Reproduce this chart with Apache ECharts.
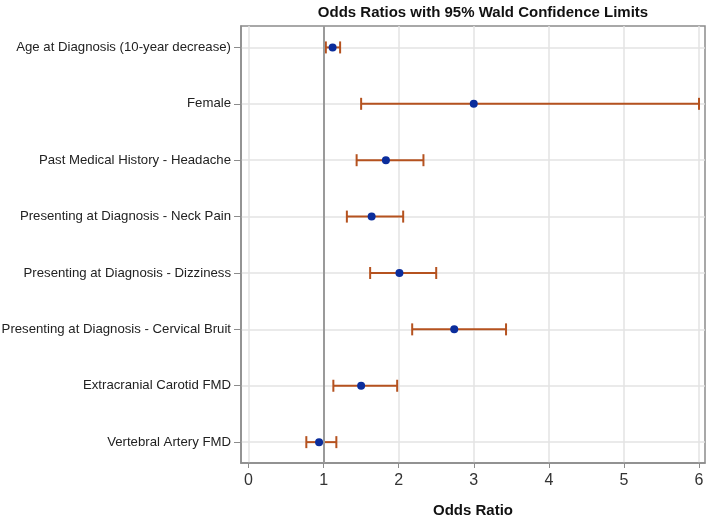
<!DOCTYPE html>
<html><head><meta charset="utf-8">
<script src="https://cdn.jsdelivr.net/npm/echarts@6/dist/echarts.min.js"></script>
<style>html,body{margin:0;padding:0;background:#fff}#c{width:709px;height:516px}</style>
</head><body><div id="c"></div>
<script>
const categories = [
  "Age at Diagnosis (10-year decrease)",
  "Female",
  "Past Medical History - Headache",
  "Presenting at Diagnosis - Neck Pain",
  "Presenting at Diagnosis - Dizziness",
  "Presenting at Diagnosis - Cervical Bruit",
  "Extracranial Carotid FMD",
  "Vertebral Artery FMD"
];
const oddsRatio = [1.12, 3.00, 1.83, 1.64, 2.01, 2.74, 1.50, 0.94];
const lowerCL   = [1.03, 1.50, 1.44, 1.31, 1.62, 2.18, 1.13, 0.77];
const upperCL   = [1.22, 6.00, 2.33, 2.06, 2.50, 3.43, 1.98, 1.17];
const xTicks = [0, 1, 2, 3, 4, 5, 6];
const yTicks = [0, 1, 2, 3, 4, 5, 6, 7];
const refValue = 1;

const chart = echarts.init(document.getElementById('c'), null, {renderer: 'canvas'});
const barData = categories.map((c, i) => [lowerCL[i], upperCL[i], i]);
const ptData = categories.map((c, i) => [oddsRatio[i], i]);
const font = 'Liberation Sans, Arial, sans-serif';
chart.setOption({
  animation: false,
  title: {
    text: 'Odds Ratios with 95% Wald Confidence Limits',
    left: 478, top: 0, textAlign: 'center',
    textStyle: {fontFamily: font, fontSize: 15, fontWeight: 'bold', color: '#111'}
  },
  grid: {left: 241, right: 4, top: 26, bottom: 53, show: true, borderColor: '#8c8c8c', borderWidth: 1.5,
         outerBoundsMode: 'none', containLabel: false},
  xAxis: {
    type: 'value', min: -0.1, max: 6.08,
    name: 'Odds Ratio', nameLocation: 'middle', nameGap: 40,
    nameTextStyle: {fontFamily: font, fontSize: 15, fontWeight: 'bold', color: '#111'},
    axisLine: {show: true, onZero: false, lineStyle: {color: '#8c8c8c', width: 1.5}},
    axisTick: {show: true, length: 5, customValues: xTicks, lineStyle: {color: '#8c8c8c'}},
    axisLabel: {customValues: xTicks, fontFamily: font, fontSize: 16, color: '#333', margin: 10},
    splitLine: {show: true, lineStyle: {color: '#e3e3e3', width: 1.5}}
  },
  yAxis: {
    type: 'value', inverse: true, min: -0.38, max: 7.37,
    axisLine: {show: true, onZero: false, lineStyle: {color: '#8c8c8c', width: 1.5}},
    axisTick: {show: true, length: 7, customValues: yTicks, lineStyle: {color: '#8c8c8c'}},
    axisLabel: {customValues: yTicks, formatter: v => categories[v] || '', fontFamily: font, fontSize: 13.2, color: '#222', margin: 10},
    splitLine: {show: true, lineStyle: {color: '#e3e3e3', width: 1.5}}
  },
  series: [
    {
      type: 'custom',
      data: barData,
      encode: {x: [0, 1], y: 2},
      renderItem: function (params, api) {
        const y = api.value(2);
        const a = api.coord([api.value(0), y]);
        const b = api.coord([api.value(1), y]);
        const h = 6;
        const st = {stroke: '#b5521f', lineWidth: 2};
        return {type: 'group', children: [
          {type: 'line', shape: {x1: a[0], y1: a[1], x2: b[0], y2: b[1]}, style: st},
          {type: 'line', shape: {x1: a[0], y1: a[1] - h, x2: a[0], y2: a[1] + h}, style: st},
          {type: 'line', shape: {x1: b[0], y1: b[1] - h, x2: b[0], y2: b[1] + h}, style: st}
        ]};
      },
      markLine: {
        silent: true, symbol: 'none', label: {show: false},
        lineStyle: {color: '#9a9a9a', width: 2, type: 'solid'},
        data: [{xAxis: refValue}]
      },
      z: 3
    },
    {
      type: 'scatter', data: ptData, symbol: 'circle', symbolSize: 8,
      itemStyle: {color: '#0b2d9c', opacity: 1}, z: 5
    }
  ]
});
</script></body></html>
